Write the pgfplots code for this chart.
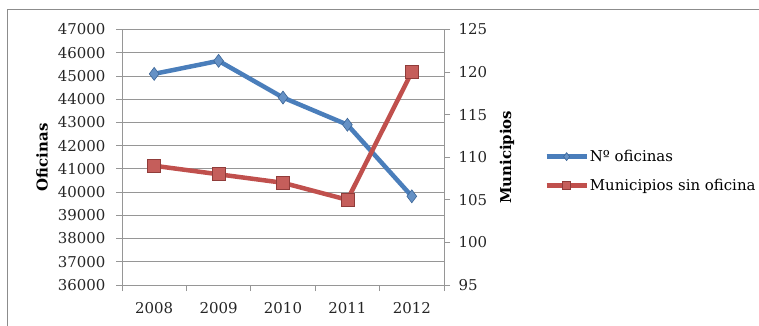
\documentclass[border=0pt]{standalone}
\usepackage{fontspec}
\setmainfont{DejaVu Serif}
\usepackage{pgfplots}
\pgfplotsset{compat=1.18}
\definecolor{xblue}{RGB}{74,126,187}
\definecolor{xred}{RGB}{192,80,77}
\definecolor{xgrid}{RGB}{150,150,150}
\pgfplotstableread{
x oficinas municipios
0 45090 109
1 45650 108
2 44070 107
3 42900 105
4 39820 120
}\datatable
\pgfplotsset{
  common/.style={
    scale only axis, width=322bp, height=255.5bp,
    at={(122bp,40bp)}, anchor=south west,
    xmin=-0.5, xmax=4.5,
    font=\fontsize{15}{18}\selectfont,
    scaled y ticks=false,
    /pgf/number format/assume math mode=true,
    /pgf/number format/1000 sep={},
    tick align=outside,
    major tick length=6bp,
    axis line style={xgrid, line width=0.8bp},
    every tick/.style={xgrid, line width=0.8bp},
    tick label style={black!85},
    clip=false,
  },
  bluestyle/.style={xblue, line width=4.5bp, mark=diamond*, mark size=6.5bp,
    mark options={fill=xblue!85!white, draw=xblue!80!black, line width=0.6bp}},
  redstyle/.style={xred, line width=4.5bp, mark=square*, mark size=6.5bp,
    mark options={fill=xred!92!white, draw=xred!75!black, line width=0.8bp}},
}
\begin{document}
\begin{tikzpicture}[x=1bp,y=1bp]
\useasboundingbox (0,0) rectangle (759,325);
\draw[black!45, line width=1bp] (7,-10) rectangle (775,315);
\begin{axis}[common,
  axis x line*=bottom, axis y line*=left,
  ymin=36000, ymax=47000,
  ytick={36000,37000,...,47000},
  ymajorgrids, grid style={xgrid, line width=0.8bp},
  xtick={0,1,2,3,4}, xticklabels={2008,2009,2010,2011,2012},
  major x tick style={draw=none},
  minor xtick={-0.5,0.5,1.5,2.5,3.5,4.5},
  minor tick length=6bp,
  xticklabel style={yshift=-8bp},
  yticklabel style={xshift=-7bp},
  ylabel={\bfseries Oficinas},
  ylabel style={at={(axis description cs:-0.248,0.5)}, anchor=center, rotate=0},
]
\addplot[bluestyle] table[x=x, y=oficinas] {\datatable};
\end{axis}
\begin{axis}[common,
  axis x line=none, axis y line*=right,
  ymin=95, ymax=125,
  ytick={95,100,...,125},
  yticklabel style={xshift=5bp},
  ylabel={\bfseries Municipios},
  ylabel style={at={(axis description cs:1.196,0.5)}, anchor=center},
  legend style={at={(1.311,0.446)}, anchor=west, draw=none, fill=none,
    font=\fontsize{15}{18}\selectfont, row sep=14bp, inner sep=0pt,
    nodes={inner sep=1bp}},
  legend cell align=left,
  legend image code/.code={
    \draw[#1, mark size=4bp, mark repeat=2, mark phase=2]
      plot coordinates {(0bp,0bp) (20bp,0bp) (40bp,0bp)};
  },
]
\addlegendimage{bluestyle}
\addlegendentry{Nº oficinas}
\addplot[redstyle] table[x=x, y=municipios] {\datatable};
\addlegendentry{Municipios sin oficina}
\end{axis}
\end{tikzpicture}
\end{document}
